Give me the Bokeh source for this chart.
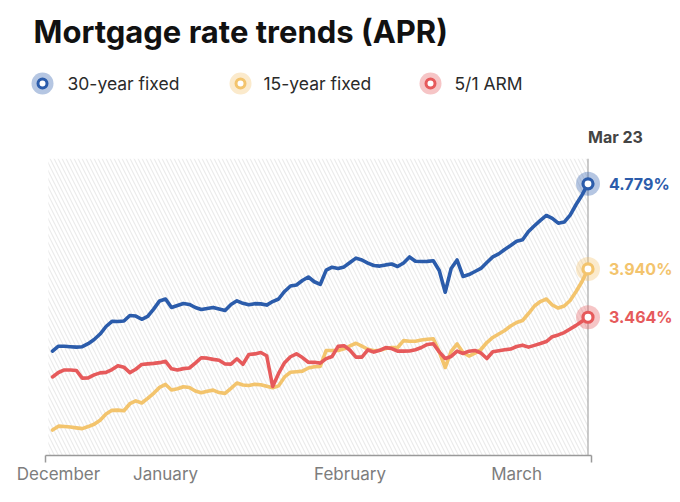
import pandas as pd
from bokeh.plotting import figure
from bokeh.models import Range1d, BoxAnnotation, FixedTicker
from bokeh.core.properties import value
from bokeh.embed import file_html
from bokeh.resources import INLINE

# ---------------- data ----------------
TITLE = "Mortgage rate trends (APR)"
SERIES_NAMES = ["30-year fixed", "15-year fixed", "5/1 ARM"]
SERIES_COLORS = ["#2b5cab", "#f3c46d", "#e65a5b"]
DATES = pd.date_range("2021-12-23", "2022-03-23", freq="D")
END_LABEL = "Mar 23"
MONTH_LABELS = ["December", "January", "February", "March"]
MONTH_LABEL_DAYS = [1, 19, 50, 78]

RATE_30Y = [3.130, 3.179, 3.179, 3.174, 3.170, 3.174, 3.204, 3.245, 3.299, 3.373,
            3.424, 3.422, 3.427, 3.481, 3.476, 3.444, 3.472, 3.544, 3.625, 3.644,
            3.560, 3.580, 3.600, 3.590, 3.560, 3.541, 3.551, 3.561, 3.546, 3.531,
            3.590, 3.626, 3.601, 3.587, 3.598, 3.596, 3.584, 3.619, 3.644, 3.718,
            3.772, 3.782, 3.826, 3.861, 3.814, 3.787, 3.928, 3.957, 3.945, 3.960,
            4.004, 4.047, 4.028, 3.997, 3.974, 3.968, 3.980, 3.989, 3.964, 3.999,
            4.058, 4.016, 4.013, 4.015, 4.021, 3.925, 3.711, 3.945, 4.028, 3.866,
            3.885, 3.915, 3.945, 4.004, 4.059, 4.089, 4.132, 4.171, 4.212, 4.227,
            4.309, 4.365, 4.419, 4.467, 4.438, 4.391, 4.402, 4.471, 4.575, 4.669,
            4.779]

RATE_15Y = [2.353, 2.391, 2.388, 2.382, 2.374, 2.367, 2.387, 2.410, 2.450, 2.510,
            2.547, 2.549, 2.543, 2.612, 2.640, 2.619, 2.665, 2.715, 2.773, 2.802,
            2.747, 2.759, 2.780, 2.772, 2.737, 2.720, 2.735, 2.746, 2.722, 2.714,
            2.763, 2.816, 2.796, 2.792, 2.803, 2.799, 2.784, 2.769, 2.788, 2.876,
            2.922, 2.927, 2.933, 2.964, 2.977, 2.979, 3.137, 3.137, 3.137, 3.153,
            3.181, 3.208, 3.179, 3.149, 3.134, 3.139, 3.157, 3.166, 3.166, 3.234,
            3.228, 3.228, 3.240, 3.248, 3.252, 3.124, 2.969, 3.127, 3.201, 3.117,
            3.082, 3.111, 3.146, 3.215, 3.265, 3.299, 3.334, 3.378, 3.413, 3.432,
            3.501, 3.575, 3.619, 3.644, 3.585, 3.555, 3.575, 3.629, 3.718, 3.816,
            3.940]

RATE_ARM = [2.876, 2.920, 2.945, 2.944, 2.940, 2.864, 2.867, 2.896, 2.916, 2.921,
            2.949, 2.987, 2.972, 2.919, 2.952, 2.999, 3.005, 3.010, 3.017, 3.030,
            2.956, 2.945, 2.958, 2.964, 3.012, 3.065, 3.061, 3.049, 3.040, 3.004,
            3.002, 3.055, 3.001, 3.097, 3.103, 3.117, 3.085, 2.782, 2.910, 3.016,
            3.075, 3.104, 3.067, 3.021, 3.020, 3.012, 3.057, 3.078, 3.177, 3.184,
            3.139, 3.071, 3.071, 3.142, 3.121, 3.138, 3.165, 3.156, 3.130, 3.130,
            3.131, 3.144, 3.166, 3.196, 3.203, 3.123, 3.058, 3.078, 3.130, 3.107,
            3.130, 3.137, 3.112, 3.058, 3.124, 3.134, 3.143, 3.151, 3.176, 3.189,
            3.170, 3.187, 3.205, 3.225, 3.273, 3.290, 3.313, 3.349, 3.384, 3.425,
            3.464]

SERIES = [RATE_30Y, RATE_15Y, RATE_ARM]

# ---------------- layout / style ----------------
FONT_NAME = "Inter"
FONT = value(FONT_NAME)
X_START, X_END = -8.739, 105.546      # day offsets shown across the canvas
Y_START, Y_END = 2.102, 6.585         # rate range shown (frame bottom = axis)
AREA_LEFT, AREA_TOP = -0.7, 5.026     # hatched plotting area
AXIS_LO, AXIS_HI = -1.2, 90.6

days = [(d - DATES[0]).days for d in DATES]
last_day = days[-1]

p = figure(width=680, height=502,
           x_range=Range1d(X_START, X_END), y_range=Range1d(Y_START, Y_END),
           output_backend="svg", toolbar_location=None, y_axis_location=None,
           min_border_left=0, min_border_right=0, min_border_top=0,
           min_border_bottom=47)
p.xgrid.visible = False
p.ygrid.visible = False
p.outline_line_color = None
p.background_fill_color = "white"
p.border_fill_color = "white"

# hatched background of the plotting area
p.add_layout(BoxAnnotation(left=AREA_LEFT, right=last_day, bottom=Y_START, top=AREA_TOP,
                           fill_alpha=0, line_color=None,
                           hatch_pattern="\\", hatch_color="#ebebeb",
                           hatch_scale=8, hatch_weight=1.2, level="underlay"))

# x axis
xa = p.xaxis[0]
xa.ticker = FixedTicker(ticks=MONTH_LABEL_DAYS, minor_ticks=[AXIS_LO, AXIS_HI])
xa.bounds = (AXIS_LO, AXIS_HI)
xa.major_label_overrides = {d: lbl for d, lbl in zip(MONTH_LABEL_DAYS, MONTH_LABELS)}
xa.major_tick_in = 0
xa.major_tick_out = 0
xa.minor_tick_in = 0
xa.minor_tick_out = 7
xa.minor_tick_line_color = "#9a9a9a"
xa.minor_tick_line_width = 1.5
xa.axis_line_color = "#9a9a9a"
xa.axis_line_width = 1.5
xa.major_label_standoff = 1
xa.major_label_text_font = FONT_NAME
xa.major_label_text_font_size = "17px"
xa.major_label_text_color = "#7d7d7d"

# vertical marker line at the latest date
p.segment(x0=[last_day], y0=[Y_START], x1=[last_day], y1=[AREA_TOP],
          line_color="#a8a8a8", line_width=1.2)

# lines
for vals, color in zip(SERIES, SERIES_COLORS):
    p.line(days, vals, line_color=color, line_width=3.6, line_join="round", line_cap="round")

# end markers and labels
for vals, color in zip(SERIES, SERIES_COLORS):
    p.scatter([last_day], [vals[-1]], size=24, fill_color=color, fill_alpha=0.35, line_color=None)
    p.scatter([last_day], [vals[-1]], size=10, fill_color="white", line_color=color, line_width=3.2)
    p.text([last_day], [vals[-1]], text=[f"{vals[-1]:.3f}%"], x_offset=21,
           text_baseline="middle", text_align="left", text_font=FONT,
           text_font_style="bold", text_font_size="16px", text_color=color)

# date label on top
p.text([last_day], [5.245], text=[END_LABEL], text_baseline="middle", text_align="left",
       text_font=FONT, text_font_style="bold", text_font_size="16px", text_color="#444444")

# title
p.text([-3.19], [6.280], text=[TITLE], text_baseline="middle", text_align="left",
       text_font=FONT, text_font_style="bold", text_font_size="31px", text_color="#111111")

# legend
LEG_Y = 5.767
LEG_MARK_X = [-1.68, 31.6, 63.53]
LEG_TEXT_X = [2.52, 35.46, 67.56]
for name, color, mx, tx in zip(SERIES_NAMES, SERIES_COLORS, LEG_MARK_X, LEG_TEXT_X):
    p.scatter([mx], [LEG_Y], size=22, fill_color=color, fill_alpha=0.35, line_color=None)
    p.scatter([mx], [LEG_Y], size=9, fill_color="white", line_color=color, line_width=3)
    p.text([tx], [LEG_Y], text=[name], text_baseline="middle", text_align="left",
           text_font=FONT, text_font_size="17.5px", text_color="#2a2a2a")

open("out.html", "w").write(file_html(p, INLINE))
